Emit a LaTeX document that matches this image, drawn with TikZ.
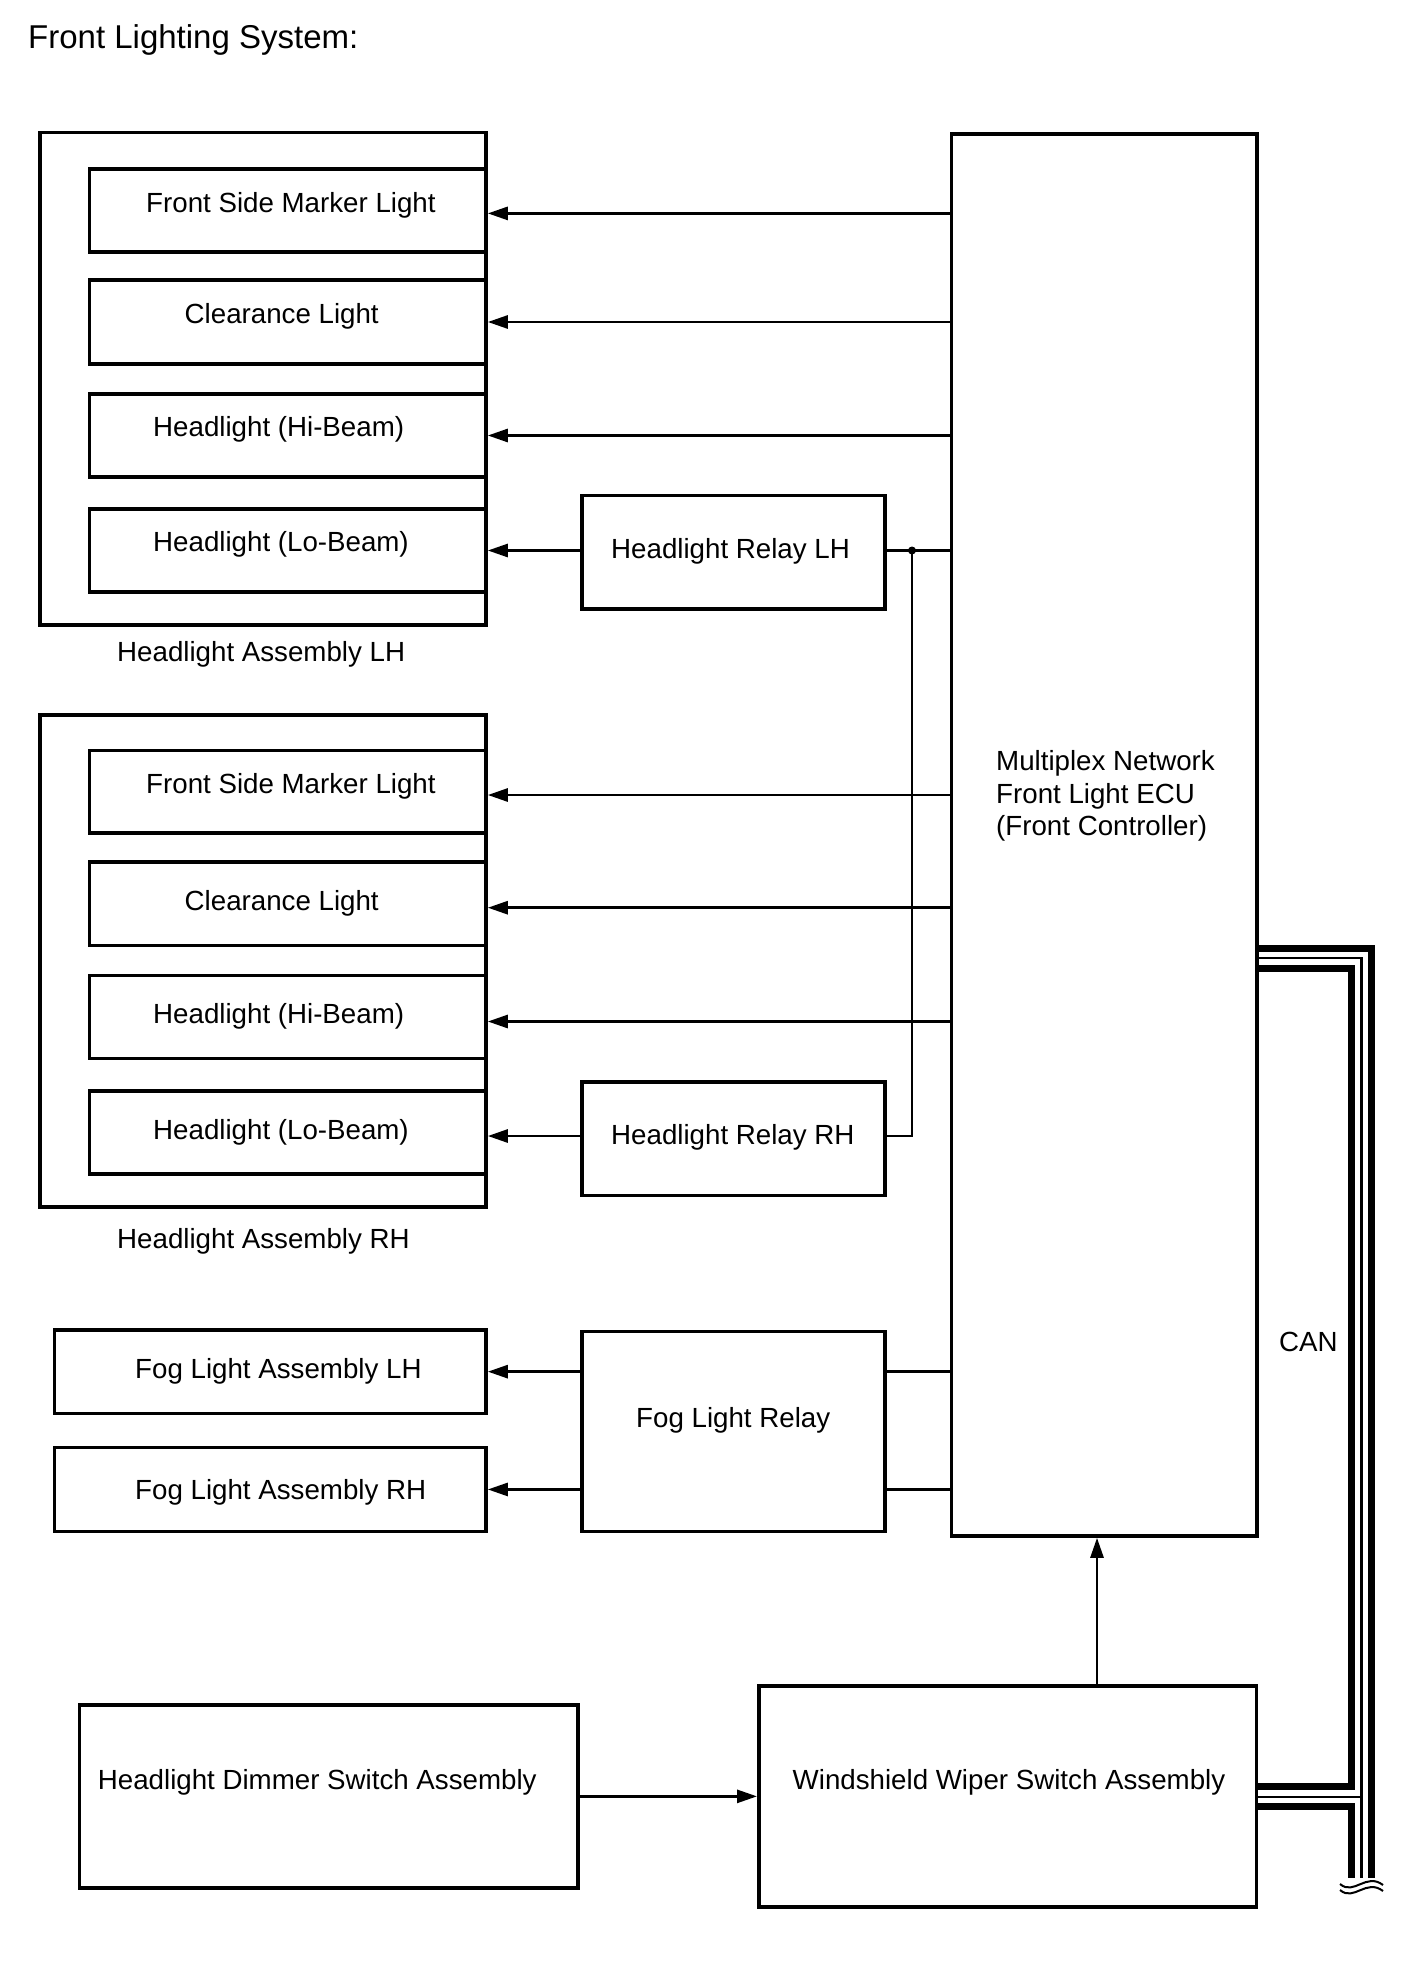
\documentclass[tikz,border=0pt]{standalone}
\usepackage{fontspec}
\setmainfont{Liberation Sans}
\usetikzlibrary{arrows.meta,fit,calc}
\begin{document}
\begin{tikzpicture}[x=1pt,y=-1pt,
  bx/.style={draw, line width=3.6pt, inner sep=0pt, rectangle},
  txt/.style={inner sep=0pt, anchor=base west, font=\fontsize{27.7}{32.5}\selectfont},
  conn/.style={line width=2.7pt},
  arr/.style={conn, -{Triangle[length=20pt,width=13pt]}},
  canthick/.style={line width=7pt, line join=miter},
  canthin/.style={line width=2.7pt, line join=miter},
  wave/.style={line width=2pt},
]
\useasboundingbox (0,0) rectangle (1424,1964);

% title
\node[txt, font=\fontsize{33}{40}\selectfont] (title) at (28,49) {Front Lighting System:};

% Headlight assembly LH
\node[bx, fit={(40,132.6) (486,625)}] (lhA) {};
\node[bx, fit={(89.5,168.75) (486,252)}] (lh1) {};
\node[bx, fit={(89.5,280) (486,364)}] (lh2) {};
\node[bx, fit={(89.5,394) (486,477)}] (lh3) {};
\node[bx, fit={(89.5,509) (486,592)}] (lh4) {};
\node[txt] (lh1t) at (146,212) {Front Side Marker Light};
\node[txt] (lh2t) at (184.5,323.7) {Clearance Light};
\node[txt] (lh3t) at (153,436.6) {Headlight (Hi-Beam)};
\node[txt] (lh4t) at (153,551) {Headlight (Lo-Beam)};
\node[txt] (lhAt) at (117,661) {Headlight Assembly LH};

% Headlight assembly RH
\node[bx, fit={(40,714.8) (486,1206.8)}] (rhA) {};
\node[bx, fit={(89.5,750.5) (486,833)}] (rh1) {};
\node[bx, fit={(89.5,861.7) (486,945.6)}] (rh2) {};
\node[bx, fit={(89.5,975.5) (486,1058.6)}] (rh3) {};
\node[bx, fit={(89.5,1090.7) (486,1173.7)}] (rh4) {};
\node[txt] (rh1t) at (146,793.8) {Front Side Marker Light};
\node[txt] (rh2t) at (184.5,910) {Clearance Light};
\node[txt] (rh3t) at (153,1023.75) {Headlight (Hi-Beam)};
\node[txt] (rh4t) at (153,1139) {Headlight (Lo-Beam)};
\node[txt] (rhAt) at (117,1248) {Headlight Assembly RH};

% relays
\node[bx, fit={(582,495.5) (885,609)}] (relLH) {};
\node[txt] (relLHt) at (611,558) {Headlight Relay LH};
\node[bx, fit={(582,1081.8) (885,1195.6)}] (relRH) {};
\node[txt] (relRHt) at (611,1144) {Headlight Relay RH};

% fog
\node[bx, fit={(54.5,1329.7) (486,1413.6)}] (fogL) {};
\node[txt] (fogLt) at (135,1378.4) {Fog Light Assembly LH};
\node[bx, fit={(54.5,1447.5) (486,1531.4)}] (fogR) {};
\node[txt] (fogRt) at (135,1499) {Fog Light Assembly RH};
\node[bx, fit={(582,1331.4) (885,1531.4)}] (fogRel) {};
\node[txt] (fogRelt) at (636,1427) {Fog Light Relay};

% ECU
\node[bx, fit={(951.5,134) (1257,1536)}] (ecu) {};
\node[txt, anchor=north west, align=left] (ecut) at (996,750.5) {Multiplex Network\\Front Light ECU\\(Front Controller)};

% switches
\node[bx, fit={(79.5,1704.7) (578,1888)}] (dim) {};
\node[txt] (dimt) at (97.7,1789.4) {Headlight Dimmer Switch Assembly};
\node[bx, fit={(758.8,1686) (1256.5,1907)}] (wip) {};
\node[txt] (wipt) at (792.5,1789.4) {Windshield Wiper Switch Assembly};

\node[txt] (can) at (1279,1351) {CAN};

% connectors ECU -> lamps
\draw[arr] (ecu.west |- 0,213.4) -- (lh1.east |- 0,213.4);
\draw[arr] (ecu.west |- lh2.east) -- (lh2.east);
\draw[arr] (ecu.west |- lh3.east) -- (lh3.east);
\draw[arr] (ecu.west |- 0,795) -- (rh1.east |- 0,795);
\draw[arr] (ecu.west |- 0,907.7) -- (rh2.east |- 0,907.7);
\draw[arr] (ecu.west |- 0,1021.5) -- (rh3.east |- 0,1021.5);
\draw[arr] (relLH.west |- lh4.east) -- (lh4.east);
\coordinate (rr) at (0,1136);
\draw[arr] (relRH.west |- rr) -- (rh4.east |- rr);
\coordinate (jn) at (912,550.5);
\draw[conn] (relLH.east |- jn) -- (ecu.west |- jn);
\draw[conn] (jn) |- (relRH.east |- rr);
\fill (jn) circle (4pt);

% fog connectors
\draw[arr] (fogRel.west |- fogL.east) -- (fogL.east);
\draw[arr] (fogRel.west |- fogR.east) -- (fogR.east);
\draw[conn] (fogRel.east |- fogL.east) -- (ecu.west |- fogL.east);
\draw[conn] (fogRel.east |- fogR.east) -- (ecu.west |- fogR.east);

% switches
\draw[arr] (dim.east) -- (wip.west |- dim.east);
\coordinate (upx) at (1097,1600);
\draw[arr] (wip.north -| upx) -- (ecu.south -| upx);

% CAN bus
\coordinate (co1) at (1371.5,948.5);
\coordinate (co2) at (1361.5,958);
\coordinate (co3) at (1351.5,968.5);
\coordinate (cb1) at (1351.5,1786.3);
\coordinate (cb2) at (1361.5,1797);
\coordinate (cb3) at (1351.5,1806.3);
\coordinate (cend) at (0,1878);
\draw[canthick] (ecu.east |- co1) -- (co1) -- (co1 |- cend);
\draw[canthin] (ecu.east |- co2) -- (co2) -- (co2 |- cend);
\draw[canthin] (wip.east |- cb2) -- (cb2);
\draw[canthick] (ecu.east |- co3) -- (co3) -- (cb1) -- (wip.east |- cb1);
\draw[canthick] (wip.east |- cb3) -- (cb3) -- (cb3 |- cend);

% wavy break
\coordinate (w1a) at (1340,1884);
\coordinate (w1b) at (1383,1885);
\coordinate (w2a) at (1340,1890);
\coordinate (w2b) at (1383,1891);
\draw[wave] (w1a) .. controls (1354,1896) and (1366,1872) .. (w1b);
\draw[wave] (w2a) .. controls (1354,1902) and (1366,1878) .. (w2b);
\end{tikzpicture}
\end{document}
